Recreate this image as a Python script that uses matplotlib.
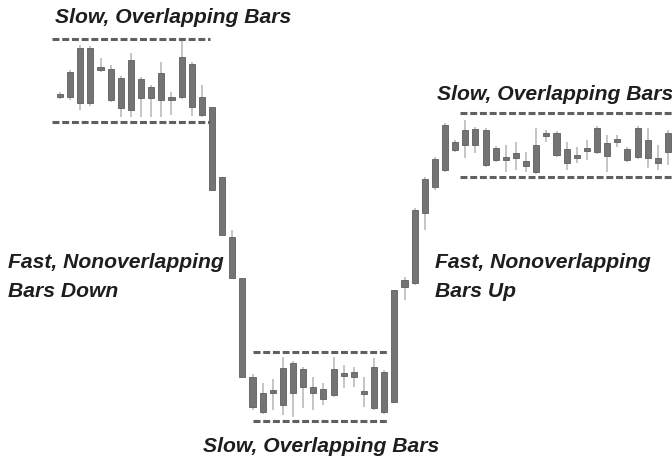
import matplotlib
matplotlib.use("Agg")
import matplotlib.pyplot as plt
import numpy as np

# price bars (index = bar number)
bar_idx = np.arange(61)
body_hi = [364, 386, 410, 410, 391, 389, 380, 398, 379, 371, 385, 361, 401, 394, 361,
           351, 281, 221, 180, 81,
           65, 68, 90, 95, 89, 71, 69, 89, 85, 86, 67, 91, 86,
           168, 178, 248, 279, 299, 333,
           316, 328, 329, 328, 310, 301, 305, 297, 313, 325, 325, 309, 303, 310, 330,
           315, 319, 309, 330, 318, 300, 325]
body_lo = [361, 361, 355, 355, 388, 358, 350, 348, 360, 360, 358, 359, 361, 351, 343,
           268, 223, 180, 81, 51,
           46, 65, 53, 65, 71, 65, 59, 63, 82, 81, 64, 50, 46,
           56, 171, 175, 245, 271, 288,
           308, 313, 313, 293, 298, 298, 300, 292, 286, 322, 303, 295, 300, 307, 306,
           302, 316, 298, 301, 300, 295, 306]
high = [366, 388, 413, 412, 400, 393, 382, 405, 381, 373, 396, 366, 420, 396, 373,
        351, 281, 228, 180, 84,
        75, 79, 101, 97, 91, 81, 75, 101, 93, 91, 81, 100, 88,
        168, 181, 250, 281, 301, 335,
        318, 338, 331, 330, 312, 313, 316, 306, 330, 328, 327, 316, 311, 318, 332,
        323, 323, 311, 332, 330, 313, 328]
low = [359, 358, 348, 352, 386, 356, 341, 341, 341, 341, 341, 343, 359, 342, 341,
       268, 223, 180, 81, 48,
       44, 48, 43, 41, 50, 48, 53, 61, 70, 71, 51, 48, 44,
       56, 158, 173, 228, 268, 286,
       306, 300, 305, 291, 296, 286, 288, 286, 284, 316, 301, 288, 295, 298, 304,
       286, 311, 296, 299, 290, 288, 293]

# trading ranges: (first bar, last bar, top, bottom)
ranges = [(-0.8, 14.8, 419, 336),
          (19.05, 32.3, 106, 37),
          (39.5, 60.4, 345, 281)]

plt.rcParams['lines.scale_dashes'] = False
fig = plt.figure(figsize=(6.72, 4.58), dpi=100)
ax = fig.add_axes([0, 0, 1, 1])

# wicks
ax.vlines(bar_idx, low, high, color='#c0c0c0', linewidth=1.3, zorder=1)
# bodies
hi = np.array(body_hi)
lo = np.array(body_lo)
h = np.maximum(hi - lo, 3)
ax.bar(bar_idx, h, bottom=(hi + lo) / 2 - h / 2, width=0.6,
       color='#747474', edgecolor='#5e5e5e', linewidth=0.6, zorder=2)

for x0, x1, top, bot in ranges:
    for yy in (top, bot):
        ax.plot([x0, x1], [yy, yy], color='#606060', linewidth=2.2,
                dashes=(5, 2), solid_capstyle='butt', zorder=3)

ax.set_xlim(-60 / 10.133, (672 - 60) / 10.133)
ax.set_ylim(0, 458)
ax.axis('off')

font = dict(family='Liberation Sans', weight='bold', style='italic',
            size=15.2, color='#1e1e1e', va='baseline', ha='left')
def label(px, py, s):
    fig.text(px / 672, 1 - py / 458, s, **font)

label(55, 23, 'Slow, Overlapping Bars')
label(437, 100, 'Slow, Overlapping Bars')
label(8, 268, 'Fast, Nonoverlapping')
label(8, 297, 'Bars Down')
label(435, 268, 'Fast, Nonoverlapping')
label(435, 297, 'Bars Up')
label(203, 452, 'Slow, Overlapping Bars')

fig.savefig('out.png', dpi=100, facecolor='white')
